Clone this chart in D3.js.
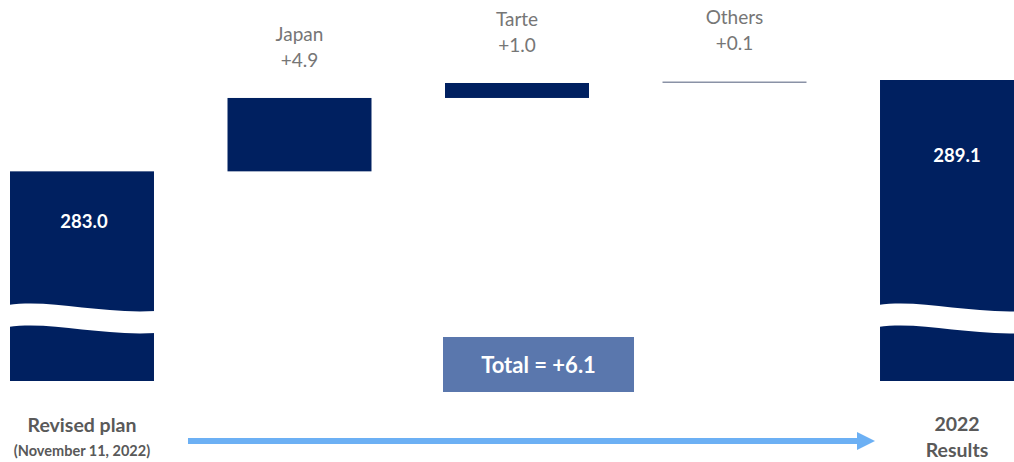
<!DOCTYPE html>
<html>
<head>
<meta charset="utf-8">
<script src="https://cdn.jsdelivr.net/npm/d3@7"></script>
<style>
  body { margin: 0; background: #fff; }
  svg { display: block; font-family: Lato, "Open Sans", sans-serif; }
</style>
</head>
<body>
<script>
// Waterfall: revised plan -> 2022 results
var steps = ["Revised plan", "Japan", "Tarte", "Others", "2022 Results"];
var kinds = ["total", "delta", "delta", "delta", "total"];
var values = [283.0, 4.9, 1.0, 0.1, 289.1];
var stepLabels = ["", "Japan", "Tarte", "Others", ""];
var deltaText = ["", "+4.9", "+1.0", "+0.1", ""];
var totalText = "Total = +6.1";

var navy = "#002060";
var W = 1014, H = 462;

var svg = d3.select("body").append("svg").attr("width", W).attr("height", H);

var x = d3.scaleBand().domain(steps).range([10, 1024]).paddingInner(0.338).paddingOuter(0);
// axis is broken, so the domain starts well above zero
var y = d3.scaleLinear().domain([269, 289.1]).range([381, 80]);

// work out start / end of each bar
var bars = [];
var running = 0;
for (var i = 0; i < steps.length; ++i) {
    var b = { name: steps[i], kind: kinds[i], i: i };
    if (kinds[i] == "total") {
        b.lo = y.domain()[0];
        b.hi = values[i];
        running = values[i];
    } else {
        b.lo = running;
        b.hi = running + values[i];
        running = b.hi;
    }
    bars.push(b);
}

svg.selectAll("rect.bar")
    .data(bars)
    .enter().append("rect")
    .attr("class", "bar")
    .attr("x", function(d) { return x(d.name); })
    .attr("y", function(d) { return y(d.hi); })
    .attr("width", x.bandwidth())
    .attr("height", function(d) { return Math.max(y(d.lo) - y(d.hi), 1.5); })
    .style("fill", function(d) { return d.hi - d.lo < 0.5 ? "#8a92a6" : navy; });

// wavy break across the total bars
var breakTop = 305, gap = 22;
function wave(x0, w, y0) {
    return "M" + x0 + "," + y0 +
        " C" + (x0 + w * 0.3) + "," + (y0 - 6) + " " + (x0 + w * 0.6) + "," + (y0 + 9) + " " + (x0 + w) + "," + (y0 + 6);
}
svg.selectAll("path.brk")
    .data(bars.filter(function(d) { return d.kind == "total"; }))
    .enter().append("path")
    .attr("class", "brk")
    .attr("d", function(d) {
        var x0 = x(d.name) - 2, w = x.bandwidth() + 4;
        var top = wave(x0, w, breakTop);
        var bot = "L" + (x0 + w) + "," + (breakTop + gap + 6) +
            " C" + (x0 + w * 0.6) + "," + (breakTop + gap + 9) + " " + (x0 + w * 0.3) + "," + (breakTop + gap - 6) + " " + x0 + "," + (breakTop + gap) + "Z";
        return top + bot;
    })
    .style("fill", "#fff");

// values inside the total bars (the last bar runs off the page, so its text sits right of centre)
var innerOffset = [57, 0, 0, 0, 82];
var innerShift = [2, 0, 0, 0, 5];
svg.selectAll("text.val")
    .data(bars.filter(function(d) { return d.kind == "total"; }))
    .enter().append("text")
    .attr("class", "val")
    .attr("x", function(d) { return x(d.name) + x.bandwidth() / 2 + innerShift[d.i]; })
    .attr("y", function(d) { return y(d.hi) + innerOffset[d.i]; })
    .attr("text-anchor", "middle")
    .style("fill", "#fff")
    .style("font-weight", "bold")
    .style("font-size", "18.5px")
    .text(function(d) { return values[d.i].toFixed(1); });

// labels above the deltas
var deltas = bars.filter(function(d) { return d.kind == "delta"; });
svg.selectAll("text.cat")
    .data(deltas)
    .enter().append("text")
    .attr("class", "cat")
    .attr("x", function(d) { return x(d.name) + x.bandwidth() / 2; })
    .attr("y", function(d) { return y(d.hi) - 57; })
    .attr("text-anchor", "middle")
    .style("fill", "#767676")
    .style("font-size", "19px")
    .text(function(d) { return stepLabels[d.i]; });
svg.selectAll("text.dlt")
    .data(deltas)
    .enter().append("text")
    .attr("class", "dlt")
    .attr("x", function(d) { return x(d.name) + x.bandwidth() / 2; })
    .attr("y", function(d) { return y(d.hi) - 31; })
    .attr("text-anchor", "middle")
    .style("fill", "#767676")
    .style("font-size", "19px")
    .text(function(d) { return deltaText[d.i]; });

// total box
var boxX = x("Tarte") - 2;
svg.append("rect")
    .attr("x", boxX).attr("y", 337)
    .attr("width", 191).attr("height", 55)
    .style("fill", "#5a77ad");
svg.append("text")
    .attr("x", boxX + 95.5).attr("y", 373)
    .attr("text-anchor", "middle")
    .style("fill", "#fff")
    .style("font-weight", "bold")
    .style("font-size", "22px")
    .text(totalText);

// bottom labels
var first = x(steps[0]) + x.bandwidth() / 2;
var last = x(steps[4]) + x.bandwidth() / 2 + 5;
svg.append("text").attr("x", first).attr("y", 432).attr("text-anchor", "middle")
    .style("fill", "#595959").style("font-weight", "bold").style("font-size", "19.5px")
    .text("Revised plan");
svg.append("text").attr("x", first).attr("y", 456).attr("text-anchor", "middle")
    .style("fill", "#595959").style("font-weight", "bold").style("font-size", "14.5px")
    .text("(November 11, 2022)");
svg.append("text").attr("x", last).attr("y", 431).attr("text-anchor", "middle")
    .style("fill", "#595959").style("font-weight", "bold").style("font-size", "19.5px")
    .text("2022");
svg.append("text").attr("x", last).attr("y", 457).attr("text-anchor", "middle")
    .style("fill", "#595959").style("font-weight", "bold").style("font-size", "19.5px")
    .text("Results");

// arrow
var arrowY = 441;
var arrowStart = x(steps[0]) + x.bandwidth() + 34;
var arrowEnd = x(steps[4]) - 5;
svg.append("line")
    .attr("x1", arrowStart).attr("x2", arrowEnd - 16)
    .attr("y1", arrowY).attr("y2", arrowY)
    .style("stroke", "#6cb0f4").style("stroke-width", 6);
svg.append("path")
    .attr("d", "M" + (arrowEnd - 18) + "," + (arrowY - 9) + " L" + arrowEnd + "," + arrowY + " L" + (arrowEnd - 18) + "," + (arrowY + 9) + "Z")
    .style("fill", "#6cb0f4");
</script>
</body>
</html>
